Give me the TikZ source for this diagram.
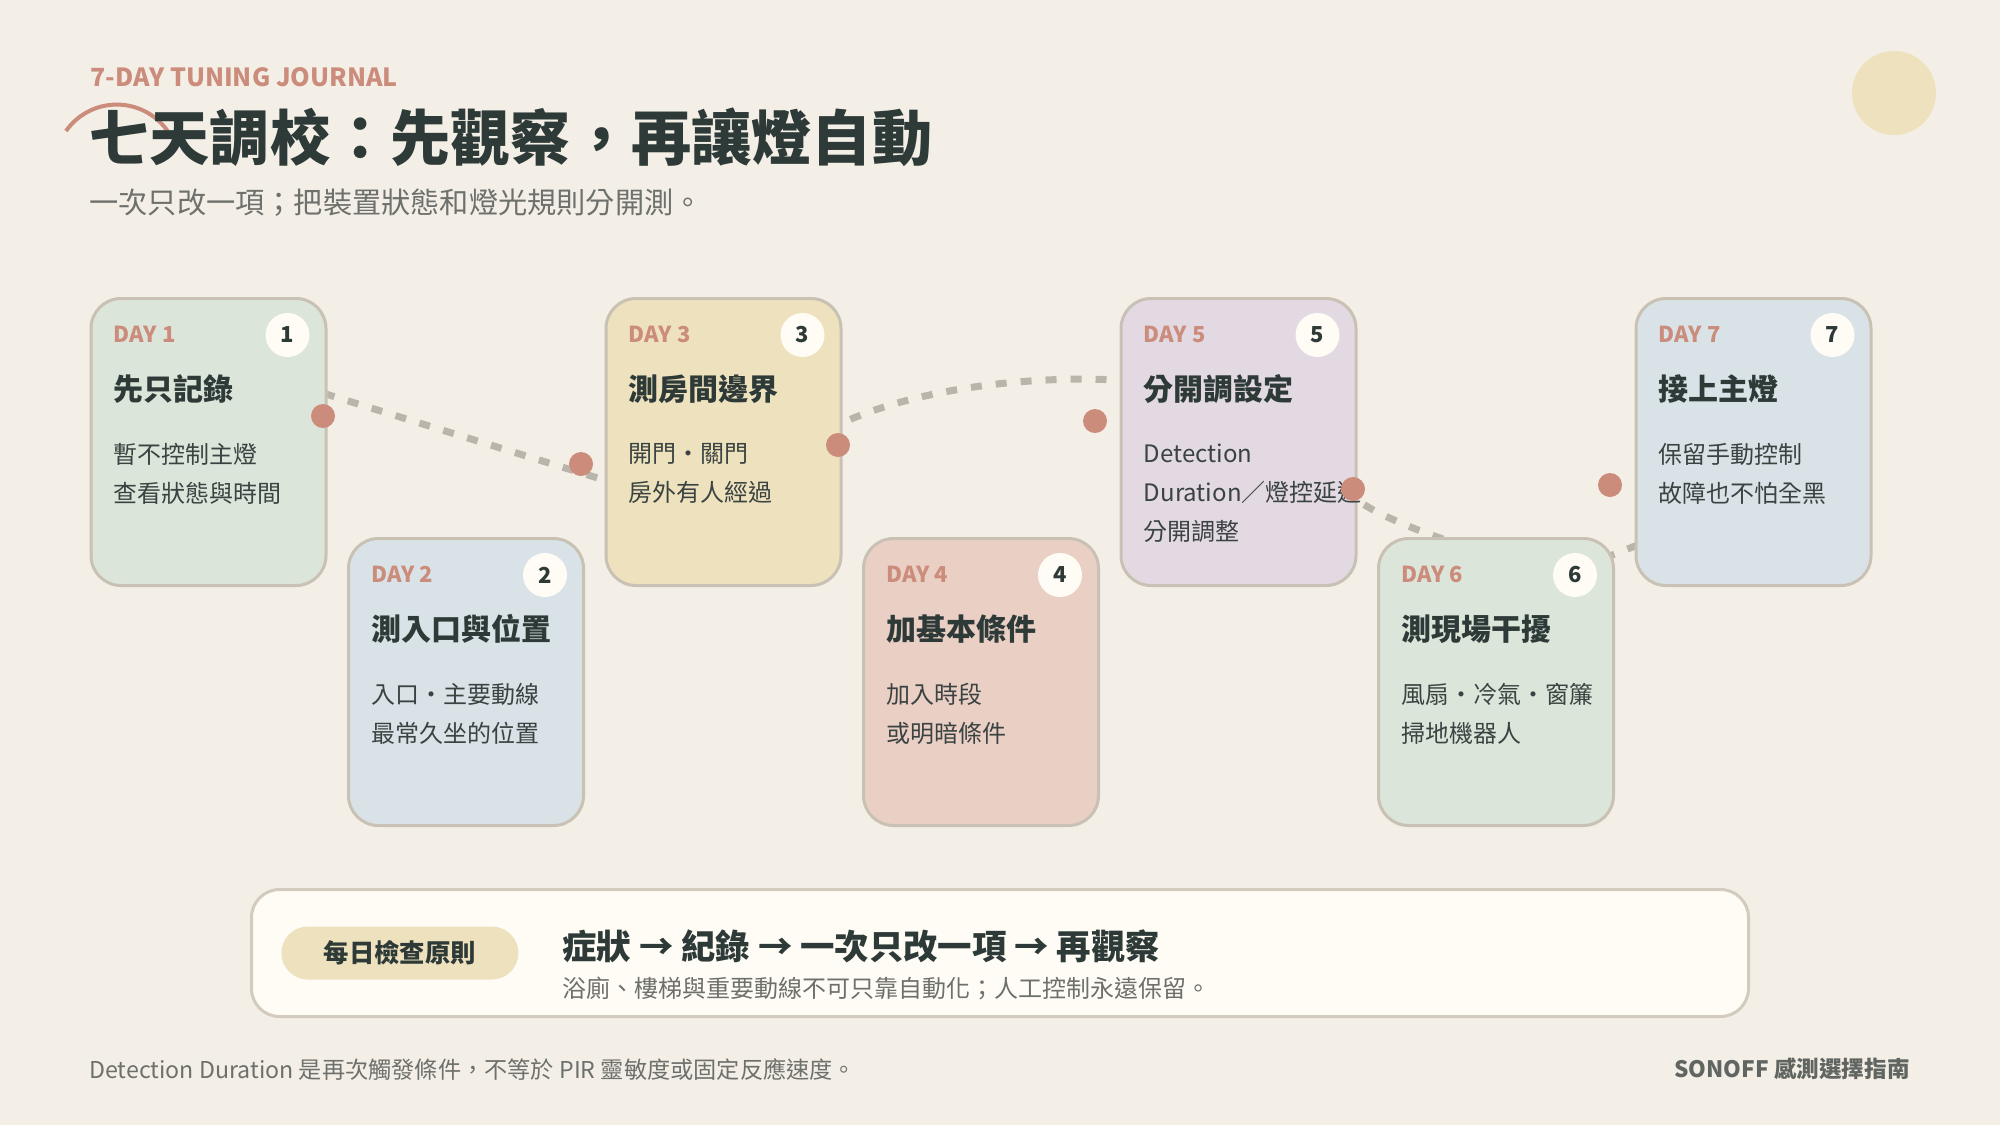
\documentclass[tikz,border=0pt]{standalone}
\usepackage{fontspec}
\setmainfont{Noto Sans CJK TC}
\usepackage{xcolor}
\usetikzlibrary{positioning}

\definecolor{paper}{HTML}{F3EFE7}
\definecolor{ink}{HTML}{2E3A37}
\definecolor{bodyink}{HTML}{3A4341}
\definecolor{greytext}{HTML}{6E706B}
\definecolor{terra}{HTML}{CC8C7C}
\definecolor{cardline}{HTML}{C9C1B4}
\definecolor{wavegrey}{HTML}{BAB5AA}
\definecolor{ivory}{HTML}{FEFCF5}
\definecolor{sage}{HTML}{DCE5DA}
\definecolor{mist}{HTML}{D9E3E7}
\definecolor{sand}{HTML}{EEE1BE}
\definecolor{blush}{HTML}{EACFC5}
\definecolor{lilac}{HTML}{E3D9E2}
\definecolor{boxline}{HTML}{D3CBBD}

\begin{document}
\begin{tikzpicture}[
    x=0.5pt, y=-0.5pt,
    card/.style={rectangle, draw=cardline, line width=1.5pt, rounded corners=15pt, minimum width=117.5pt, minimum height=143.5pt, anchor=north west},
    badge/.style={circle, fill=ivory, minimum size=22pt, inner sep=0pt, text=ink, font=\bfseries\fontsize{11}{11}\selectfont},
    daytag/.style={anchor=west, inner sep=0pt, text=terra, font=\bfseries\fontsize{11}{11}\selectfont},
    cardhead/.style={anchor=west, inner sep=0pt, text=ink, font=\bfseries\fontsize{15}{15}\selectfont},
    cardbody/.style={anchor=west, inner sep=0pt, align=left, text=bodyink, font=\fontsize{12}{19.5}\selectfont},
    stopdot/.style={circle, fill=terra, minimum size=12pt, inner sep=0pt},
    wavepath/.style={draw=wavegrey, line width=3.5pt, dash pattern=on 5.5pt off 7pt},
    pill/.style={rectangle, fill=sand, rounded corners=13.25pt, minimum width=118.5pt, minimum height=26.5pt, inner sep=0pt, text=ink, font=\bfseries\fontsize{12.7}{12.7}\selectfont}
]
    \useasboundingbox (0,0) rectangle (2000,1125);
    \fill[paper] (0,0) rectangle (2000,1125);
    \fill[sand] (1894,93) circle[radius=42];

    % Header
    \draw[terra, line width=2pt] (66,131) arc[start angle=-145, end angle=-35, radius=62];
    \node[anchor=west, inner sep=0pt, text=terra, font=\bfseries\fontsize{12.5}{12.5}\selectfont] (kicker) at (90,77) {7-DAY TUNING JOURNAL};
    \node[anchor=west, inner sep=0pt, text=ink, font=\bfseries\fontsize{30.1}{30.1}\selectfont] (title) at (89,137) {七天調校：先觀察，再讓燈自動};
    \node[anchor=west, inner sep=0pt, text=greytext, font=\fontsize{14.6}{14.6}\selectfont] (subtitle) at (89,203) {一次只改一項；把裝置狀態和燈光規則分開測。};

    % Wave behind the cards
    \coordinate (w0) at (300,386);
    \coordinate (w1) at (601,479);
    \coordinate (w2) at (842,423);
    \coordinate (w3) at (1114,380);
    \coordinate (w4) at (1375,511);
    \coordinate (w5) at (1615,554);
    \coordinate (w6) at (1665,535);
    \draw[wavepath] (w0) .. controls (400,417) and (500,448) .. (w1)
        .. controls (660,498) and (782,445) .. (w2)
        .. controls (925,385) and (1044,376) .. (w3)
        .. controls (1184,384) and (1315,477) .. (w4)
        .. controls (1445,546) and (1555,577) .. (w5)
        .. controls (1635,546) and (1650,540) .. (w6);

    % Cards
    \node[card, fill=sage] (card1) at (89.5,297) {};
    \node[card, fill=mist] (card2) at (347,537) {};
    \node[card, fill=sand] (card3) at (604.5,297) {};
    \node[card, fill=blush] (card4) at (862,537) {};
    \node[card, fill=lilac] (card5) at (1119.5,297) {};
    \node[card, fill=sage] (card6) at (1377,537) {};
    \node[card, fill=mist] (card7) at (1634.5,297) {};

    \node[daytag] (day1) at ([shift={(24,37)}]card1.north west) {DAY 1};
    \node[badge] (num1) at ([shift={(-40,38)}]card1.north east) {1};
    \node[cardhead] (head1) at ([shift={(24,92)}]card1.north west) {先只記錄};
    \node[cardbody] (body1) at ([shift={(24,176.5)}]card1.north west) {暫不控制主燈\\查看狀態與時間};

    \node[daytag] (day2) at ([shift={(24,37)}]card2.north west) {DAY 2};
    \node[badge] (num2) at ([shift={(-40,38)}]card2.north east) {2};
    \node[cardhead] (head2) at ([shift={(24,92)}]card2.north west) {測入口與位置};
    \node[cardbody] (body2) at ([shift={(24,176.5)}]card2.north west) {入口・主要動線\\最常久坐的位置};

    \node[daytag] (day3) at ([shift={(24,37)}]card3.north west) {DAY 3};
    \node[badge] (num3) at ([shift={(-40,38)}]card3.north east) {3};
    \node[cardhead] (head3) at ([shift={(24,92)}]card3.north west) {測房間邊界};
    \node[cardbody] (body3) at ([shift={(24,176.5)}]card3.north west) {開門・關門\\房外有人經過};

    \node[daytag] (day4) at ([shift={(24,37)}]card4.north west) {DAY 4};
    \node[badge] (num4) at ([shift={(-40,38)}]card4.north east) {4};
    \node[cardhead] (head4) at ([shift={(24,92)}]card4.north west) {加基本條件};
    \node[cardbody] (body4) at ([shift={(24,176.5)}]card4.north west) {加入時段\\或明暗條件};

    \node[daytag] (day5) at ([shift={(24,37)}]card5.north west) {DAY 5};
    \node[badge] (num5) at ([shift={(-40,38)}]card5.north east) {5};
    \node[cardhead] (head5) at ([shift={(24,92)}]card5.north west) {分開調設定};
    \node[cardbody] (body5) at ([shift={(24,196)}]card5.north west) {Detection\\Duration／燈控延遲\\分開調整};

    \node[daytag] (day6) at ([shift={(24,37)}]card6.north west) {DAY 6};
    \node[badge] (num6) at ([shift={(-40,38)}]card6.north east) {6};
    \node[cardhead] (head6) at ([shift={(24,92)}]card6.north west) {測現場干擾};
    \node[cardbody] (body6) at ([shift={(24,176.5)}]card6.north west) {風扇・冷氣・窗簾\\掃地機器人};

    \node[daytag] (day7) at ([shift={(24,37)}]card7.north west) {DAY 7};
    \node[badge] (num7) at ([shift={(-40,38)}]card7.north east) {7};
    \node[cardhead] (head7) at ([shift={(24,92)}]card7.north west) {接上主燈};
    \node[cardbody] (body7) at ([shift={(24,176.5)}]card7.north west) {保留手動控制\\故障也不怕全黑};

    % Dots on the wave
    \node[stopdot] (dot1) at (323,416) {};
    \node[stopdot] (dot2) at (581,464) {};
    \node[stopdot] (dot3) at (838,445) {};
    \node[stopdot] (dot4) at (1095,421) {};
    \node[stopdot] (dot5) at (1353,489) {};
    \node[stopdot] (dot6) at (1610,485) {};

    % Daily rule
    \node[rectangle, draw=boxline, fill=ivory, line width=1.5pt, rounded corners=14pt, minimum width=748.5pt, minimum height=63.5pt, anchor=north west] (rules) at (250,888) {};
    \node[pill, right=15.5pt of rules.west] (pill) {每日檢查原則};
    \node[anchor=west, inner sep=0pt, text=ink, font=\bfseries\fontsize{17.2}{17.2}\selectfont] (steps) at (562,946) {症狀 → 紀錄 → 一次只改一項 → 再觀察};
    \node[anchor=west, inner sep=0pt, text=greytext, font=\fontsize{12}{12}\selectfont] (note) at (562,988) {浴廁、樓梯與重要動線不可只靠自動化；人工控制永遠保留。};

    % Footer
    \node[anchor=west, inner sep=0pt, text=greytext, font=\fontsize{11.6}{11.6}\selectfont] (footnote) at (89,1069) {Detection Duration 是再次觸發條件，不等於 PIR 靈敏度或固定反應速度。};
    \node[anchor=east, inner sep=0pt, text=greytext!80!ink, font=\bfseries\fontsize{11.3}{11.3}\selectfont] (brand) at (1910,1069) {SONOFF 感測選擇指南};
\end{tikzpicture}
\end{document}
